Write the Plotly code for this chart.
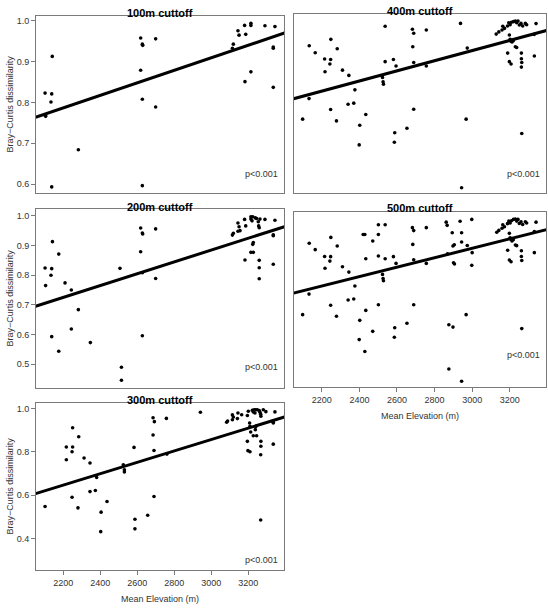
import plotly.graph_objects as go

W, H = 548, 608

# ---------------- data ----------------
elev_100 = [2101, 2104, 2104, 2140, 2137, 2133, 2137, 2281, 2618, 2627, 2629, 2618, 2627, 2627,
            2699, 2699, 3119, 3114, 3144, 3150, 3180, 3186, 3214, 3214, 3182, 3214, 3290, 3344,
            3335, 3335, 3335]
bc_100 = [0.823, 0.766, 0.769, 0.913, 0.821, 0.801, 0.593, 0.684, 0.958, 0.943, 0.940, 0.879, 0.808, 0.596,
          0.956, 0.789, 0.943, 0.933, 0.976, 0.965, 0.989, 0.967, 0.994, 0.989, 0.851, 0.875, 0.988, 0.986,
          0.936, 0.933, 0.837]

elev_200 = [2101, 2104, 2141, 2137, 2133, 2137, 2175, 2175, 2209, 2243, 2243, 2281, 2346, 2506, 2514, 2514,
            2618, 2627, 2629, 2618, 2627, 2627, 2699, 2699,
            3114, 3119, 3144, 3150, 3144, 3155, 3180, 3186, 3182, 3214, 3214, 3220, 3224, 3227, 3224, 3214,
            3227, 3238, 3245, 3254, 3256, 3259, 3259, 3259, 3259, 3263, 3290, 3344, 3335, 3335, 3335]
bc_200 = [0.824, 0.765, 0.913, 0.822, 0.800, 0.593, 0.871, 0.544, 0.774, 0.750, 0.619, 0.684, 0.573, 0.823, 0.490, 0.446,
          0.959, 0.942, 0.939, 0.879, 0.808, 0.596, 0.956, 0.789,
          0.935, 0.941, 0.976, 0.963, 0.948, 0.950, 0.988, 0.966, 0.851, 0.997, 0.989, 0.983, 0.997, 0.910, 0.904, 0.877,
          0.877, 0.993, 0.991, 0.980, 0.966, 0.960, 0.850, 0.825, 0.788, 0.989, 0.988, 0.985, 0.936, 0.933, 0.837]

elev_300 = [2101, 2216, 2216, 2250, 2250, 2247, 2247, 2283, 2279, 2312, 2344, 2344, 2373, 2377, 2380, 2404, 2402,
            2436, 2524, 2530, 2530, 2582, 2587, 2587, 2656, 2685, 2692, 2685, 2690, 2690, 2757, 2760, 2941,
            3083, 3088, 3114, 3119, 3114, 3141, 3144, 3164, 3195, 3198, 3209, 3195, 3200, 3207, 3209, 3213,
            3222, 3227, 3231, 3236, 3240, 3227, 3238, 3241, 3245, 3249, 3259, 3263, 3267, 3268, 3268, 3268,
            3267, 3267, 3281, 3295, 3344, 3335, 3335, 3335]
bc_300 = [0.548, 0.823, 0.764, 0.912, 0.823, 0.801, 0.591, 0.870, 0.542, 0.772, 0.749, 0.617, 0.622, 0.690, 0.682, 0.522, 0.432,
          0.571, 0.741, 0.718, 0.708, 0.821, 0.489, 0.445, 0.508, 0.958, 0.940, 0.878, 0.807, 0.594, 0.955, 0.790, 0.983,
          0.937, 0.943, 0.971, 0.961, 0.949, 0.954, 0.980, 0.972, 0.849, 0.806, 0.801, 0.968, 0.988, 0.934, 0.918, 0.892,
          0.992, 0.985, 0.995, 0.980, 0.995, 0.875, 0.903, 0.918, 0.875, 0.995, 0.991, 0.983, 0.974, 0.965, 0.849, 0.826,
          0.787, 0.486, 0.995, 0.986, 0.985, 0.937, 0.934, 0.836]

elev_400 = [2098, 2132, 2133, 2165, 2248, 2282, 2215, 2247, 2243, 2217, 2310, 2344, 2376, 2340, 2370, 2247, 2278,
            2402, 2434, 2399, 2537, 2537, 2523, 2526, 2528, 2581, 2595, 2588, 2586, 2653, 2682, 2689, 2684, 2689,
            2689, 2756, 2756, 2938, 2968, 2944, 2974,
            3128, 3142, 3159, 3163, 3172, 3188, 3195, 3202, 3209, 3220, 3230, 3237, 3244, 3251, 3260, 3269, 3283,
            3290, 3340, 3198, 3202, 3205, 3212, 3219, 3230, 3237, 3189, 3262, 3262, 3264, 3198, 3207, 3262, 3331,
            3264, 3331]
bc_400 = [0.547, 0.641, 0.883, 0.851, 0.912, 0.869, 0.822, 0.820, 0.799, 0.764, 0.771, 0.747, 0.681, 0.615, 0.620, 0.591, 0.539,
          0.519, 0.568, 0.429, 0.972, 0.810, 0.738, 0.718, 0.707, 0.820, 0.790, 0.485, 0.441, 0.505, 0.958, 0.940, 0.878, 0.806,
          0.592, 0.955, 0.790, 0.985, 0.547, 0.233, 0.872,
          0.936, 0.946, 0.955, 0.972, 0.962, 0.973, 0.988, 0.979, 0.990, 0.993, 0.996, 0.988, 0.996, 0.978, 0.985, 0.973, 0.985,
          0.979, 0.984, 0.932, 0.912, 0.904, 0.900, 0.906, 0.878, 0.875, 0.849, 0.849, 0.823, 0.806, 0.810, 0.799, 0.785, 0.836,
          0.481, 0.935]

elev_500 = [2098, 2132, 2133, 2165, 2215, 2217, 2247, 2243, 2248, 2247, 2282, 2278, 2310, 2344, 2340, 2370, 2376,
            2402, 2399, 2434, 2429, 2420, 2429, 2434, 2471, 2471, 2501, 2501, 2501, 2501, 2537, 2537, 2523, 2526,
            2528, 2581, 2595, 2588, 2586, 2653, 2682, 2689, 2684, 2689, 2689, 2756, 2756, 2862, 2867, 2869, 2876,
            2876, 2894, 2898, 2898, 2905, 2901, 2906, 2936, 2944, 2944, 2944, 2968, 2974, 2998, 3000, 2998,
            3131, 3142, 3159, 3163, 3172, 3188, 3195, 3202, 3209, 3220, 3230, 3237, 3244, 3251, 3260, 3269, 3283,
            3290, 3340, 3198, 3202, 3205, 3212, 3219, 3230, 3237, 3189, 3262, 3262, 3264, 3198, 3207, 3264, 3331,
            3331]
bc_500 = [0.547, 0.644, 0.884, 0.854, 0.822, 0.766, 0.821, 0.800, 0.912, 0.591, 0.871, 0.539, 0.773, 0.748, 0.616, 0.621, 0.682,
          0.520, 0.429, 0.567, 0.373, 0.926, 0.926, 0.811, 0.895, 0.468, 0.972, 0.926, 0.824, 0.594, 0.972, 0.811, 0.737, 0.718,
          0.707, 0.821, 0.789, 0.485, 0.440, 0.506, 0.958, 0.944, 0.879, 0.806, 0.594, 0.958, 0.789, 0.984, 0.969, 0.835, 0.499,
          0.290, 0.934, 0.488, 0.871, 0.877, 0.792, 0.786, 0.988, 0.934, 0.890, 0.232, 0.547, 0.874, 0.997, 0.840, 0.780,
          0.936, 0.945, 0.955, 0.972, 0.962, 0.977, 0.989, 0.980, 0.991, 0.997, 0.999, 0.989, 0.997, 0.978, 0.986, 0.973, 0.986,
          0.980, 0.984, 0.931, 0.910, 0.903, 0.895, 0.901, 0.876, 0.873, 0.851, 0.849, 0.822, 0.803, 0.805, 0.797, 0.481, 0.840,
          0.940]

# fitted regression lines: intercept, slope (per m)
fit_100 = (0.4488, 1.536e-4)
fit_200 = (0.2877, 1.990e-4)
fit_300 = (0.0683, 2.630e-4)
fit_400 = (0.1651, 2.319e-4)
fit_500 = (0.1914, 2.230e-4)

titles = ["100m cuttoff", "200m cuttoff", "300m cuttoff", "400m cuttoff", "500m cuttoff"]
p_label = "p<0.001"
x_ticks = [2200, 2400, 2600, 2800, 3000, 3200]
y_ticks_100 = [0.6, 0.7, 0.8, 0.9, 1.0]
y_ticks_200 = [0.5, 0.6, 0.7, 0.8, 0.9, 1.0]
y_ticks_300 = [0.4, 0.6, 0.8, 1.0]
x_title = "Mean Elevation (m)"
y_title = "Bray\u2212Curtis dissimilarity"

# ---------------- layout geometry (pixels) ----------------
X_RANGE = [2052, 3393]
panels = [
    # (elev, bc, fit, box px [x0, x1, y0, y1], yrange, yticks, show x ticks, title y px, p y px)
    (elev_100, bc_100, fit_100, [36, 284, 16, 193], [0.578, 1.012], y_ticks_100, False, 12.5, 173.5),
    (elev_200, bc_200, fit_200, [36, 284, 209, 388], [0.42, 1.023], y_ticks_200, False, 207.5, 367),
    (elev_300, bc_300, fit_300, [36, 284, 403, 570], [0.255, 1.026], y_ticks_300, True, 400, 560),
    (elev_400, bc_400, fit_400, [294, 546, 14, 193], [0.209, 1.028], None, False, 10.5, 174),
    (elev_500, bc_500, fit_500, [294, 546, 212, 387], [0.205, 1.032], None, True, 208, 355),
]

FONT = "Liberation Sans, Arial, Helvetica, sans-serif"
FRAME = "#7a7a7a"
TXT = "#333333"

def fx(px):
    return px / W

def fy(py):
    return 1 - py / H

fig = go.Figure()
annotations = []
layout = dict(
    width=W, height=H, margin=dict(l=0, r=0, t=0, b=0),
    paper_bgcolor="white", plot_bgcolor="white", showlegend=False,
    font=dict(family=FONT, size=9, color=TXT),
)

for i, (ex, bc, fit, box, yr, yt, showx, ty, py) in enumerate(panels):
    n = i + 1
    xa = "x" if n == 1 else f"x{n}"
    ya = "y" if n == 1 else f"y{n}"
    fig.add_trace(go.Scatter(x=ex, y=bc, mode="markers", xaxis=xa, yaxis=ya,
                             marker=dict(size=3.6, color="black"), hoverinfo="skip"))
    a, b = fit
    lx = [X_RANGE[0] - 50, X_RANGE[1] + 50]
    fig.add_trace(go.Scatter(x=lx, y=[a + b * v for v in lx], mode="lines", xaxis=xa, yaxis=ya,
                             line=dict(color="black", width=3), hoverinfo="skip"))
    x0, x1, y0, y1 = box
    xkey = "xaxis" if n == 1 else f"xaxis{n}"
    ykey = "yaxis" if n == 1 else f"yaxis{n}"
    layout[xkey] = dict(
        domain=[fx(x0), fx(x1)], range=X_RANGE, anchor=ya,
        showgrid=False, zeroline=False, showline=True, mirror=True,
        linecolor=FRAME, linewidth=1,
        tickmode="array", tickvals=x_ticks if showx else [],
        ticks="outside" if showx else "", ticklen=4, tickcolor=FRAME,
        showticklabels=showx, tickfont=dict(size=9, color=TXT, family=FONT),
    )
    layout[ykey] = dict(
        domain=[fy(y1), fy(y0)], range=yr, anchor=xa,
        showgrid=False, zeroline=False, showline=True, mirror=True,
        linecolor=FRAME, linewidth=1,
        tickmode="array", tickvals=yt if yt else [],
        ticktext=[f"{v:.1f}" for v in yt] if yt else [],
        ticks="outside" if yt else "", ticklen=4, tickcolor=FRAME,
        showticklabels=bool(yt), tickfont=dict(size=9, color=TXT, family=FONT),
    )
    # panel title
    annotations.append(dict(text=f"<b>{titles[i]}</b>", xref="paper", yref="paper",
                            x=fx((x0 + x1) / 2), y=fy(ty), xanchor="center", yanchor="middle",
                            showarrow=False, font=dict(size=11, color="black", family=FONT)))
    # p-value
    annotations.append(dict(text=p_label, xref="paper", yref="paper",
                            x=fx(x1 - 4), y=fy(py), xanchor="right", yanchor="middle",
                            showarrow=False, font=dict(size=9, color=TXT, family=FONT)))
    # y-axis title for left column
    if yt:
        annotations.append(dict(text=y_title, xref="paper", yref="paper",
                                x=fx(9), y=fy((y0 + y1) / 2), xanchor="center", yanchor="middle",
                                textangle=-90, showarrow=False,
                                font=dict(size=9, color=TXT, family=FONT)))
    if showx:
        annotations.append(dict(text=x_title, xref="paper", yref="paper",
                                x=fx((x0 + x1) / 2), y=fy(y1 + 29), xanchor="center", yanchor="middle",
                                showarrow=False, font=dict(size=9, color=TXT, family=FONT)))

layout["annotations"] = annotations
fig.update_layout(**layout)
fig.write_html("out.html")
